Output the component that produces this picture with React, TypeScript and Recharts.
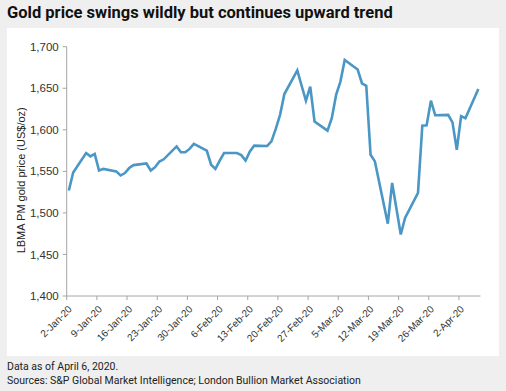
import React from "react";
import { LineChart, Line, XAxis, YAxis } from "recharts";

const dates = [
  "2020-01-02", "2020-01-03", "2020-01-06", "2020-01-07", "2020-01-08", "2020-01-09", "2020-01-10",
  "2020-01-13", "2020-01-14", "2020-01-15", "2020-01-16", "2020-01-17",
  "2020-01-20", "2020-01-21", "2020-01-22", "2020-01-23", "2020-01-24",
  "2020-01-27", "2020-01-28", "2020-01-29", "2020-01-30", "2020-01-31",
  "2020-02-03", "2020-02-04", "2020-02-05", "2020-02-06", "2020-02-07",
  "2020-02-10", "2020-02-11", "2020-02-12", "2020-02-13", "2020-02-14",
  "2020-02-17", "2020-02-18", "2020-02-19", "2020-02-20", "2020-02-21",
  "2020-02-24", "2020-02-25", "2020-02-26", "2020-02-27", "2020-02-28",
  "2020-03-02", "2020-03-03", "2020-03-04", "2020-03-05", "2020-03-06",
  "2020-03-09", "2020-03-10", "2020-03-11", "2020-03-12", "2020-03-13",
  "2020-03-16", "2020-03-17", "2020-03-18", "2020-03-19", "2020-03-20",
  "2020-03-23", "2020-03-24", "2020-03-25", "2020-03-26", "2020-03-27",
  "2020-03-30", "2020-03-31", "2020-04-01", "2020-04-02", "2020-04-03",
  "2020-04-06",
];

const prices = [
  1527, 1548.6, 1572, 1568, 1571, 1551, 1553,
  1550, 1545, 1548, 1554, 1557.5,
  1559.5, 1551, 1555, 1561.8, 1564.5,
  1580, 1573, 1573, 1577, 1583,
  1575, 1558, 1553, 1563, 1572,
  1572, 1569.5, 1563, 1574, 1581,
  1580.5, 1586, 1601, 1618, 1643,
  1671.5, 1653, 1635, 1652, 1610,
  1599, 1614, 1642, 1658, 1684,
  1672.5, 1656, 1653, 1570, 1562,
  1487, 1536, 1505, 1474, 1494,
  1524, 1605, 1605.5, 1635, 1617.5,
  1618, 1609, 1576, 1616.5, 1614,
  1649,
];

const xTickLabels = [
  "2-Jan-20", "9-Jan-20", "16-Jan-20", "23-Jan-20", "30-Jan-20", "6-Feb-20", "13-Feb-20",
  "20-Feb-20", "27-Feb-20", "5-Mar-20", "12-Mar-20", "19-Mar-20", "26-Mar-20", "2-Apr-20",
];

const yTicks = [1400, 1450, 1500, 1550, 1600, 1650, 1700];

const start = Date.UTC(2020, 0, 2);
// each trading day sits in the middle of its calendar-day slot
const data = dates.map((d, i) => ({
  day: (Date.parse(d + "T00:00:00Z") - start) / 86400000 + 0.5,
  price: prices[i],
}));

const xTicks = xTickLabels.map((_, i) => i * 7);

const tickFont = "'Liberation Sans', Arial, sans-serif";
const textFont = "Roboto, 'Noto Sans', sans-serif";

const XTick = (props: any) => {
  const { x, y, payload } = props;
  const label = xTickLabels[payload.index] ?? "";
  return (
    <g transform={`translate(${x + 3},${y + 5})`}>
      <text
        transform="rotate(-45)"
        textAnchor="end"
        dy={4}
        fontSize={10}
        fontFamily={tickFont}
        fill="#333"
      >
        {label}
      </text>
    </g>
  );
};

export default function App() {
  return (
    <div
      style={{
        position: "absolute",
        left: 0,
        top: 0,
        width: 506,
        height: 391,
        background: "#efefef",
        overflow: "hidden",
      }}
    >
      <div
        style={{
          position: "absolute",
          left: 7,
          top: 3,
          fontFamily: textFont,
          fontWeight: 700,
          fontSize: 16.5,
          color: "#111",
          whiteSpace: "nowrap",
        }}
      >
        Gold price swings wildly but continues upward trend
      </div>
      <div
        style={{
          position: "absolute",
          left: 7,
          top: 28,
          width: 492,
          height: 328,
          background: "#fff",
        }}
      />
      <div style={{ position: "absolute", left: 0, top: 0 }}>
        <LineChart
          width={506}
          height={391}
          data={data}
          margin={{ top: 46.7, right: 25.5, bottom: 0, left: 0 }}
        >
          <XAxis
            dataKey="day"
            type="number"
            domain={[0, 96]}
            ticks={xTicks}
            interval={0}
            height={95}
            stroke="#a6a6a6"
            tickSize={4}
            tick={<XTick />}
          />
          <YAxis
            type="number"
            domain={[1400, 1700]}
            ticks={yTicks}
            width={66.7}
            stroke="#a6a6a6"
            tickSize={4}
            tickMargin={4}
            tickFormatter={(v: number) => v.toLocaleString("en-US")}
            tick={{ fontSize: 11.5, fill: "#333", fontFamily: tickFont }}
            label={{
              value: "LBMA PM gold price (US$/oz)",
              angle: -90,
              position: "insideLeft",
              dx: 16,
              dy: 82,
              style: { fontSize: 11, fill: "#222", fontFamily: tickFont },
            }}
          />
          <Line
            type="linear"
            dataKey="price"
            stroke="#4a97c5"
            strokeWidth={2.6}
            dot={false}
            isAnimationActive={false}
          />
        </LineChart>
      </div>
      <div
        style={{
          position: "absolute",
          left: 7,
          top: 360,
          fontFamily: textFont,
          fontSize: 10.5,
          lineHeight: "14px",
          color: "#222",
          whiteSpace: "nowrap",
        }}
      >
        Data as of April 6, 2020.
        <br />
        Sources: S&amp;P Global Market Intelligence; London Bullion Market Association
      </div>
    </div>
  );
}
